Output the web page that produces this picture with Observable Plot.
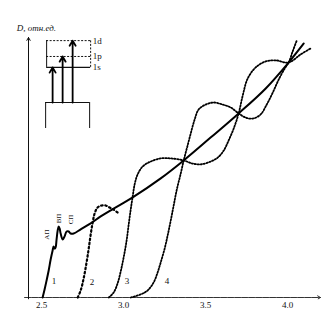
<!DOCTYPE html>
<html><head><meta charset="utf-8">
<script src="https://cdn.jsdelivr.net/npm/d3@7"></script>
<script src="https://cdn.jsdelivr.net/npm/@observablehq/plot@0.6"></script>
<style>body{margin:0;background:#fff} #c{width:328px;height:316px;overflow:hidden}</style>
</head><body><div id="c"></div>
<script>
// Photon energy E (eV) and optical density D (rel. units) for each curve
const curve1E = [2.506,2.518,2.530,2.543,2.555,2.567,2.573,2.579,2.585,2.591,2.598,2.604,2.610,2.616,2.628,2.640,2.652,2.665,2.677,2.695,2.738,2.799,2.860,2.939,3.055,3.226,3.366,3.530,3.701,3.866,4.006,4.098];
const curve1D = [0,0.031,0.065,0.104,0.146,0.181,0.196,0.188,0.192,0.223,0.258,0.273,0.265,0.246,0.223,0.235,0.254,0.254,0.246,0.246,0.262,0.285,0.312,0.342,0.385,0.458,0.527,0.615,0.708,0.804,0.904,0.977];
const curve2E = [2.720,2.738,2.756,2.774,2.787,2.799,2.811,2.823,2.841,2.866,2.890,2.915,2.939,2.963];
const curve2D = [0,0.027,0.073,0.135,0.188,0.242,0.288,0.323,0.346,0.354,0.354,0.346,0.338,0.327];
const curve3E = [2.909,2.939,2.963,2.982,3.000,3.018,3.030,3.043,3.055,3.067,3.085,3.116,3.165,3.226,3.287,3.366,3.421,3.470,3.530,3.573,3.610,3.640,3.671,3.701,3.726,3.756,3.805,3.866,3.927,4.006,4.079,4.140];
const curve3D = [0,0.019,0.054,0.100,0.154,0.219,0.277,0.338,0.388,0.435,0.473,0.504,0.523,0.535,0.535,0.527,0.515,0.512,0.523,0.538,0.565,0.604,0.650,0.708,0.777,0.842,0.885,0.908,0.912,0.904,0.935,0.958];
const curve4E = [3.043,3.104,3.146,3.183,3.207,3.226,3.250,3.268,3.287,3.305,3.323,3.348,3.366,3.390,3.409,3.433,3.457,3.500,3.549,3.604,3.652,3.701,3.744,3.787,3.835,3.872,3.909,3.945,3.982,4.006,4.030,4.055];
const curve4D = [0,0.012,0.027,0.058,0.096,0.135,0.188,0.238,0.296,0.354,0.412,0.477,0.527,0.585,0.631,0.685,0.723,0.742,0.750,0.742,0.731,0.708,0.692,0.688,0.704,0.742,0.788,0.838,0.881,0.904,0.946,0.988];

const tickValues = [2.5, 3.0, 3.5, 4.0];
const tickLabels = ["2.5", "3.0", "3.5", "4.0"];
const curveNames = ["1", "2", "3", "4"];
const curveLabelE = [2.561, 2.793, 3.006, 3.250];
const curveLabelD = [0.062, 0.058, 0.062, 0.062];
const peakNames = ["AΠ", "BΠ", "CΠ"];
const peakE = [2.530, 2.604, 2.677];
const peakD = [0.242, 0.304, 0.300];
const yTitle = "D, отн.ед.";

// inset level scheme
const levelNames = ["1s", "1p", "1d"];
const levelD = [0.885, 0.927, 0.988];
const transitionE = [2.567, 2.628, 2.689];
const insetLeft = 2.5305, insetRight = 2.7988;
const lowerLeft = 2.5244, lowerRight = 2.7927, lowerTop = 0.75, lowerBottom = 0.65;
const levelLabelE = 2.811;

const pts = (E, D) => E.map((e, i) => ({E: e, D: D[i]}));
const c1 = pts(curve1E, curve1D), c2 = pts(curve2E, curve2D), c3 = pts(curve3E, curve3D), c4 = pts(curve4E, curve4D);
const levels = levelNames.map((n, i) => ({name: n, D: levelD[i]}));
const transitions = transitionE.map((e, i) => ({E: e, D: levelD[i]}));
const curveLabels = curveNames.map((n, i) => ({name: n, E: curveLabelE[i], D: curveLabelD[i]}));
const peaks = peakNames.map((n, i) => ({name: n, E: peakE[i], D: peakD[i]}));

const serif = "Liberation Serif, DejaVu Serif, serif";
const chart = Plot.plot({
  width: 328, height: 316,
  marginLeft: 28, marginRight: 8, marginTop: 37, marginBottom: 19,
  style: {background: "#fff", fontFamily: serif, color: "#111"},
  x: {domain: [2.42, 4.2]},
  y: {domain: [0, 1], axis: null},
  marks: [
    Plot.axisX({ticks: tickValues, tickFormat: (d) => tickLabels[tickValues.indexOf(d)], tickSize: 0, tickPadding: 4, fontSize: 9, label: null, fontFamily: serif}),
    Plot.arrow([{x1: 2.396, x2: 4.2, y: 0}], {x1: "x1", x2: "x2", y1: "y", y2: "y", headLength: 5, stroke: "#333", strokeWidth: 1, strokeDasharray: "6,1"}),
    Plot.arrow([{x: 2.42, y1: -0.005, y2: 1.0}], {x1: "x", x2: "x", y1: "y1", y2: "y2", headLength: 5, stroke: "#111", strokeWidth: 1}),
    Plot.text([yTitle], {x: () => 2.348, y: () => 1.035, text: d => d, textAnchor: "start", fontSize: 9, fontStyle: "italic", fill: "#111"}),
    // inset
    Plot.ruleY(levels.filter(d => d.name !== "1s"), {y: "D", x1: () => insetLeft, x2: () => insetRight, stroke: "#111", strokeWidth: 1, strokeDasharray: "2,1.5"}),
    Plot.ruleY(levels.filter(d => d.name === "1s"), {y: "D", x1: () => insetLeft, x2: () => insetRight, stroke: "#111", strokeWidth: 1.2}),
    Plot.ruleX([insetLeft], {y1: () => levelD[0], y2: () => levelD[2], stroke: "#111", strokeWidth: 1}),
    Plot.ruleX([insetRight], {y1: () => levelD[0], y2: () => levelD[2], stroke: "#111", strokeWidth: 1, strokeDasharray: "2,1.5"}),
    Plot.ruleY([lowerTop], {x1: () => lowerLeft, x2: () => lowerRight, stroke: "#111", strokeWidth: 1}),
    Plot.ruleX([lowerLeft, lowerRight], {y1: () => lowerBottom, y2: () => lowerTop, stroke: "#111", strokeWidth: 1}),
    Plot.arrow(transitions, {x1: "E", x2: "E", y1: () => lowerTop, y2: "D", headLength: 5, stroke: "#000", strokeWidth: 1.8}),
    Plot.text(levels, {x: () => levelLabelE, y: "D", text: "name", textAnchor: "start", fontSize: 9, fill: "#111"}),
    // curves
    Plot.line(c2, {x: "E", y: "D", stroke: "#000", strokeWidth: 2.2, strokeDasharray: "1.6,2.6", curve: "catmull-rom"}),
    Plot.line(c3, {x: "E", y: "D", stroke: "#000", strokeWidth: 1.8, strokeDasharray: "1.3,1.7", curve: "catmull-rom"}),
    Plot.line(c4, {x: "E", y: "D", stroke: "#000", strokeWidth: 1.8, strokeDasharray: "1.3,1.7", curve: "catmull-rom"}),
    Plot.line(c1, {x: "E", y: "D", stroke: "#000", strokeWidth: 2, curve: "catmull-rom"}),
    Plot.text(curveLabels, {x: "E", y: "D", text: "name", fontSize: 9, fill: "#111", textAnchor: "start"}),
    Plot.text(peaks, {x: "E", y: "D", text: "name", fontSize: 7, rotate: -90, fill: "#111"})
  ]
});
document.getElementById("c").appendChild(chart);
</script>
</body></html>
